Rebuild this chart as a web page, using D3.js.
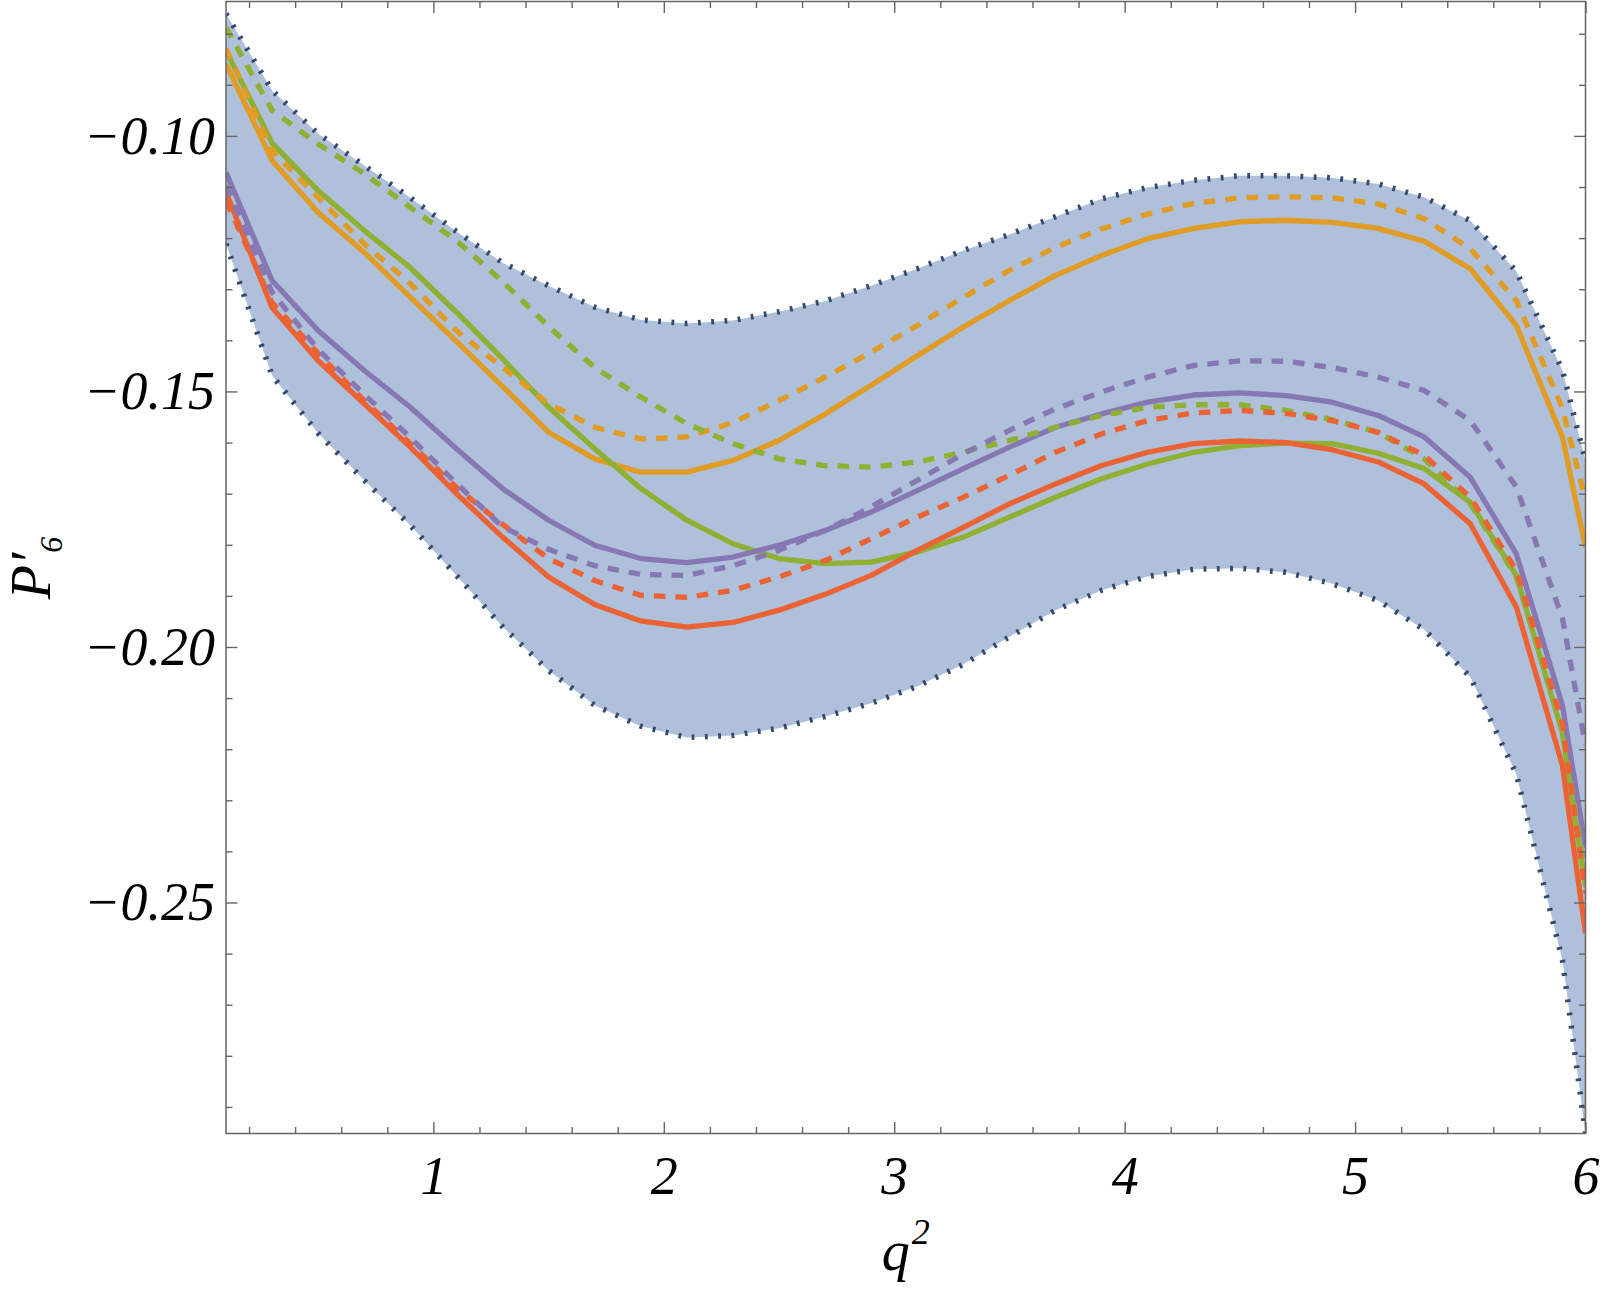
<!DOCTYPE html>
<html><head><meta charset="utf-8">
<script src="https://cdn.jsdelivr.net/npm/d3@7"></script>
<style>html,body{margin:0;padding:0;background:#fff;} svg{display:block;}</style>
</head><body>
<svg id="chart" width="1600" height="1291"></svg>
<script>
// ---- data ----
const qSquared = [0.1,0.3,0.5,0.7,0.9,1.1,1.3,1.5,1.7,1.9,2.1,2.3,2.5,2.7,2.9,3.1,3.3,3.5,3.7,3.9,4.1,4.3,4.5,4.7,4.9,5.1,5.3,5.5,5.7,5.9,6.0];
const bandUpper = [-0.0761,-0.0911,-0.0996,-0.1058,-0.1121,-0.1187,-0.1248,-0.1293,-0.1335,-0.1360,-0.1367,-0.1361,-0.1344,-0.1323,-0.1293,-0.1260,-0.1224,-0.1193,-0.1158,-0.1123,-0.1101,-0.1087,-0.1078,-0.1078,-0.1082,-0.1094,-0.1120,-0.1166,-0.1265,-0.1459,-0.1635];
const bandLower = [-0.1211,-0.1469,-0.1582,-0.1674,-0.1762,-0.1860,-0.1960,-0.2046,-0.2114,-0.2155,-0.2177,-0.2173,-0.2159,-0.2136,-0.2110,-0.2077,-0.2034,-0.1980,-0.1928,-0.1889,-0.1862,-0.1848,-0.1846,-0.1854,-0.1876,-0.1909,-0.1966,-0.2059,-0.2249,-0.2613,-0.2951];
const orangeSolid = [-0.0859,-0.1048,-0.1150,-0.1228,-0.1316,-0.1402,-0.1490,-0.1580,-0.1632,-0.1658,-0.1658,-0.1635,-0.1596,-0.1544,-0.1488,-0.1430,-0.1374,-0.1322,-0.1273,-0.1234,-0.1201,-0.1181,-0.1168,-0.1165,-0.1169,-0.1181,-0.1206,-0.1260,-0.1371,-0.1589,-0.1805];
const orangeDashed = [-0.0829,-0.1029,-0.1121,-0.1211,-0.1289,-0.1381,-0.1453,-0.1524,-0.1570,-0.1593,-0.1589,-0.1561,-0.1518,-0.1472,-0.1423,-0.1371,-0.1316,-0.1263,-0.1218,-0.1182,-0.1153,-0.1132,-0.1121,-0.1119,-0.1121,-0.1133,-0.1162,-0.1221,-0.1322,-0.1533,-0.1713];
const greenSolid = [-0.0833,-0.1014,-0.1107,-0.1185,-0.1258,-0.1345,-0.1436,-0.1531,-0.1612,-0.1690,-0.1752,-0.1798,-0.1827,-0.1837,-0.1834,-0.1814,-0.1785,-0.1746,-0.1707,-0.1671,-0.1642,-0.1619,-0.1606,-0.1601,-0.1602,-0.1621,-0.1651,-0.1717,-0.1860,-0.2169,-0.2470];
const greenDashed = [-0.0788,-0.0950,-0.1016,-0.1074,-0.1140,-0.1205,-0.1285,-0.1373,-0.1453,-0.1511,-0.1563,-0.1602,-0.1632,-0.1645,-0.1648,-0.1638,-0.1619,-0.1596,-0.1570,-0.1547,-0.1531,-0.1526,-0.1526,-0.1537,-0.1555,-0.1580,-0.1632,-0.1720,-0.1863,-0.2163,-0.2447];
const redSolid = [-0.1110,-0.1336,-0.1440,-0.1524,-0.1609,-0.1700,-0.1785,-0.1863,-0.1917,-0.1949,-0.1961,-0.1952,-0.1928,-0.1897,-0.1860,-0.1811,-0.1766,-0.1720,-0.1681,-0.1645,-0.1619,-0.1602,-0.1597,-0.1600,-0.1614,-0.1638,-0.1681,-0.1759,-0.1922,-0.2232,-0.2560];
const redDashed = [-0.1127,-0.1326,-0.1426,-0.1518,-0.1602,-0.1688,-0.1760,-0.1827,-0.1870,-0.1899,-0.1903,-0.1889,-0.1863,-0.1831,-0.1788,-0.1746,-0.1707,-0.1664,-0.1619,-0.1583,-0.1557,-0.1542,-0.1537,-0.1543,-0.1557,-0.1580,-0.1625,-0.1707,-0.1850,-0.2150,-0.2482];
const purpleSolid = [-0.1071,-0.1283,-0.1381,-0.1459,-0.1531,-0.1612,-0.1690,-0.1752,-0.1801,-0.1827,-0.1835,-0.1824,-0.1801,-0.1772,-0.1736,-0.1694,-0.1651,-0.1609,-0.1570,-0.1544,-0.1521,-0.1507,-0.1503,-0.1508,-0.1521,-0.1547,-0.1589,-0.1668,-0.1818,-0.2114,-0.2392];
const purpleDashed = [-0.1097,-0.1306,-0.1418,-0.1506,-0.1590,-0.1680,-0.1765,-0.1809,-0.1841,-0.1858,-0.1860,-0.1841,-0.1811,-0.1772,-0.1726,-0.1674,-0.1622,-0.1576,-0.1534,-0.1501,-0.1472,-0.1449,-0.1440,-0.1441,-0.1453,-0.1472,-0.1498,-0.1557,-0.1687,-0.1944,-0.2192];

const xMajorTicks = [1,2,3,4,5,6];
const xMinorTicks = [0.2,0.4,0.6,0.8,1.2,1.4,1.6,1.8,2.2,2.4,2.6,2.8,3.2,3.4,3.6,3.8,4.2,4.4,4.6,4.8,5.2,5.4,5.6,5.8];
const yMajorTicks = [-0.25,-0.20,-0.15,-0.10];
const yMinorTicks = [-0.29,-0.28,-0.27,-0.26,-0.24,-0.23,-0.22,-0.21,-0.19,-0.18,-0.17,-0.16,-0.14,-0.13,-0.12,-0.11,-0.09,-0.08];
const xLabel = "q";
const xLabelSup = "2";
const yLabel = "P\u2032";
const yLabelSub = "6";

// ---- layout ----
const L = 226, R = 1585.5, T = 1.5, B = 1133.5;
const x = d3.scaleLinear().domain([0.1, 6]).range([L, R]);
const y = d3.scaleLinear().domain([-0.2952, -0.0737]).range([B, T]);

const svg = d3.select("#chart");
const fontFam = "'Liberation Serif','Times New Roman',serif";

svg.append("defs").append("clipPath").attr("id","clip")
  .append("rect").attr("x",L).attr("y",T).attr("width",R-L).attr("height",B-T);

const g = svg.append("g").attr("clip-path","url(#clip)");

const band = qSquared.map((q,i)=>({q, lo: bandLower[i], hi: bandUpper[i]}));
g.append("path").datum(band)
  .attr("d", d3.area().x(d=>x(d.q)).y0(d=>y(d.lo)).y1(d=>y(d.hi)))
  .attr("fill","#5E81B5").attr("fill-opacity",0.5);

const line = d3.line().x(d=>x(d[0])).y(d=>y(d[1]));
const pts = arr => qSquared.map((q,i)=>[q, arr[i]]);

[bandUpper, bandLower].forEach(arr=>{
  g.append("path").datum(pts(arr)).attr("d", line)
    .attr("fill","none").attr("stroke","#34496c").attr("stroke-width",5.5)
    .attr("stroke-dasharray","2.8 10.5");
});

const series = [
  {v: orangeSolid, c:"#E09C24", dash:null},
  {v: greenSolid,  c:"#8FB032", dash:null},
  {v: redSolid,    c:"#EB6235", dash:null},
  {v: purpleSolid, c:"#8778B3", dash:null},
  {v: orangeDashed, c:"#E09C24", dash:"11.5 10"},
  {v: greenDashed,  c:"#8FB032", dash:"11.5 10"},
  {v: redDashed,    c:"#EB6235", dash:"11.5 10"},
  {v: purpleDashed, c:"#8778B3", dash:"11.5 10"}
];
series.forEach(s=>{
  const p = g.append("path").datum(pts(s.v)).attr("d", line)
    .attr("fill","none").attr("stroke", s.c).attr("stroke-width",5.3)
    .attr("stroke-linejoin","round");
  if (s.dash) p.attr("stroke-dasharray", s.dash);
});

// ---- axes / frame ----
const axisColor = "#666666";
const fmt = d3.format(".2f");
function styleAxis(sel){
  sel.select(".domain").remove();
  sel.selectAll("line").attr("stroke", axisColor).attr("stroke-width",1.4);
  sel.selectAll("text").attr("fill","#000").attr("font-family",fontFam)
     .attr("font-style","italic").attr("font-size",54);
}
const maj = 11.5, mnr = 6.5;
// bottom
svg.append("g").attr("transform",`translate(0,${B})`)
  .call(d3.axisBottom(x).tickValues(xMajorTicks).tickFormat(d3.format("d")).tickSizeInner(-maj).tickSizeOuter(0).tickPadding(22))
  .call(styleAxis);
svg.append("g").attr("transform",`translate(0,${B})`)
  .call(d3.axisBottom(x).tickValues(xMinorTicks).tickFormat("").tickSizeInner(-mnr).tickSizeOuter(0))
  .call(styleAxis);
// top
svg.append("g").attr("transform",`translate(0,${T})`)
  .call(d3.axisTop(x).tickValues(xMajorTicks).tickFormat("").tickSizeInner(-maj).tickSizeOuter(0))
  .call(styleAxis);
svg.append("g").attr("transform",`translate(0,${T})`)
  .call(d3.axisTop(x).tickValues(xMinorTicks).tickFormat("").tickSizeInner(-mnr).tickSizeOuter(0))
  .call(styleAxis);
// left
svg.append("g").attr("transform",`translate(${L},0)`)
  .call(d3.axisLeft(y).tickValues(yMajorTicks).tickFormat(fmt).tickSizeInner(-maj).tickSizeOuter(0).tickPadding(11))
  .call(styleAxis);
svg.append("g").attr("transform",`translate(${L},0)`)
  .call(d3.axisLeft(y).tickValues(yMinorTicks).tickFormat("").tickSizeInner(-mnr).tickSizeOuter(0))
  .call(styleAxis);
// right
svg.append("g").attr("transform",`translate(${R},0)`)
  .call(d3.axisRight(y).tickValues(yMajorTicks).tickFormat("").tickSizeInner(-maj).tickSizeOuter(0))
  .call(styleAxis);
svg.append("g").attr("transform",`translate(${R},0)`)
  .call(d3.axisRight(y).tickValues(yMinorTicks).tickFormat("").tickSizeInner(-mnr).tickSizeOuter(0))
  .call(styleAxis);

svg.append("rect").attr("x",L).attr("y",T).attr("width",R-L).attr("height",B-T)
  .attr("fill","none").attr("stroke",axisColor).attr("stroke-width",1.5);

// ---- axis titles ----
const xt = svg.append("text").attr("x",(L+R)/2).attr("y",1270)
  .attr("text-anchor","middle").attr("font-family",fontFam).attr("font-style","italic")
  .attr("font-size",56).attr("fill","#000");
xt.append("tspan").text(xLabel);
xt.append("tspan").attr("font-size",36).attr("dy",-26).attr("dx",2).text(xLabelSup);

const yt = svg.append("text").attr("transform",`translate(50,568) rotate(-90)`)
  .attr("text-anchor","middle").attr("font-family",fontFam).attr("font-style","italic")
  .attr("font-size",56).attr("fill","#000");
yt.append("tspan").text(yLabel);
yt.append("tspan").attr("font-size",32).attr("dy",12).text(yLabelSub);
</script>
</body></html>
